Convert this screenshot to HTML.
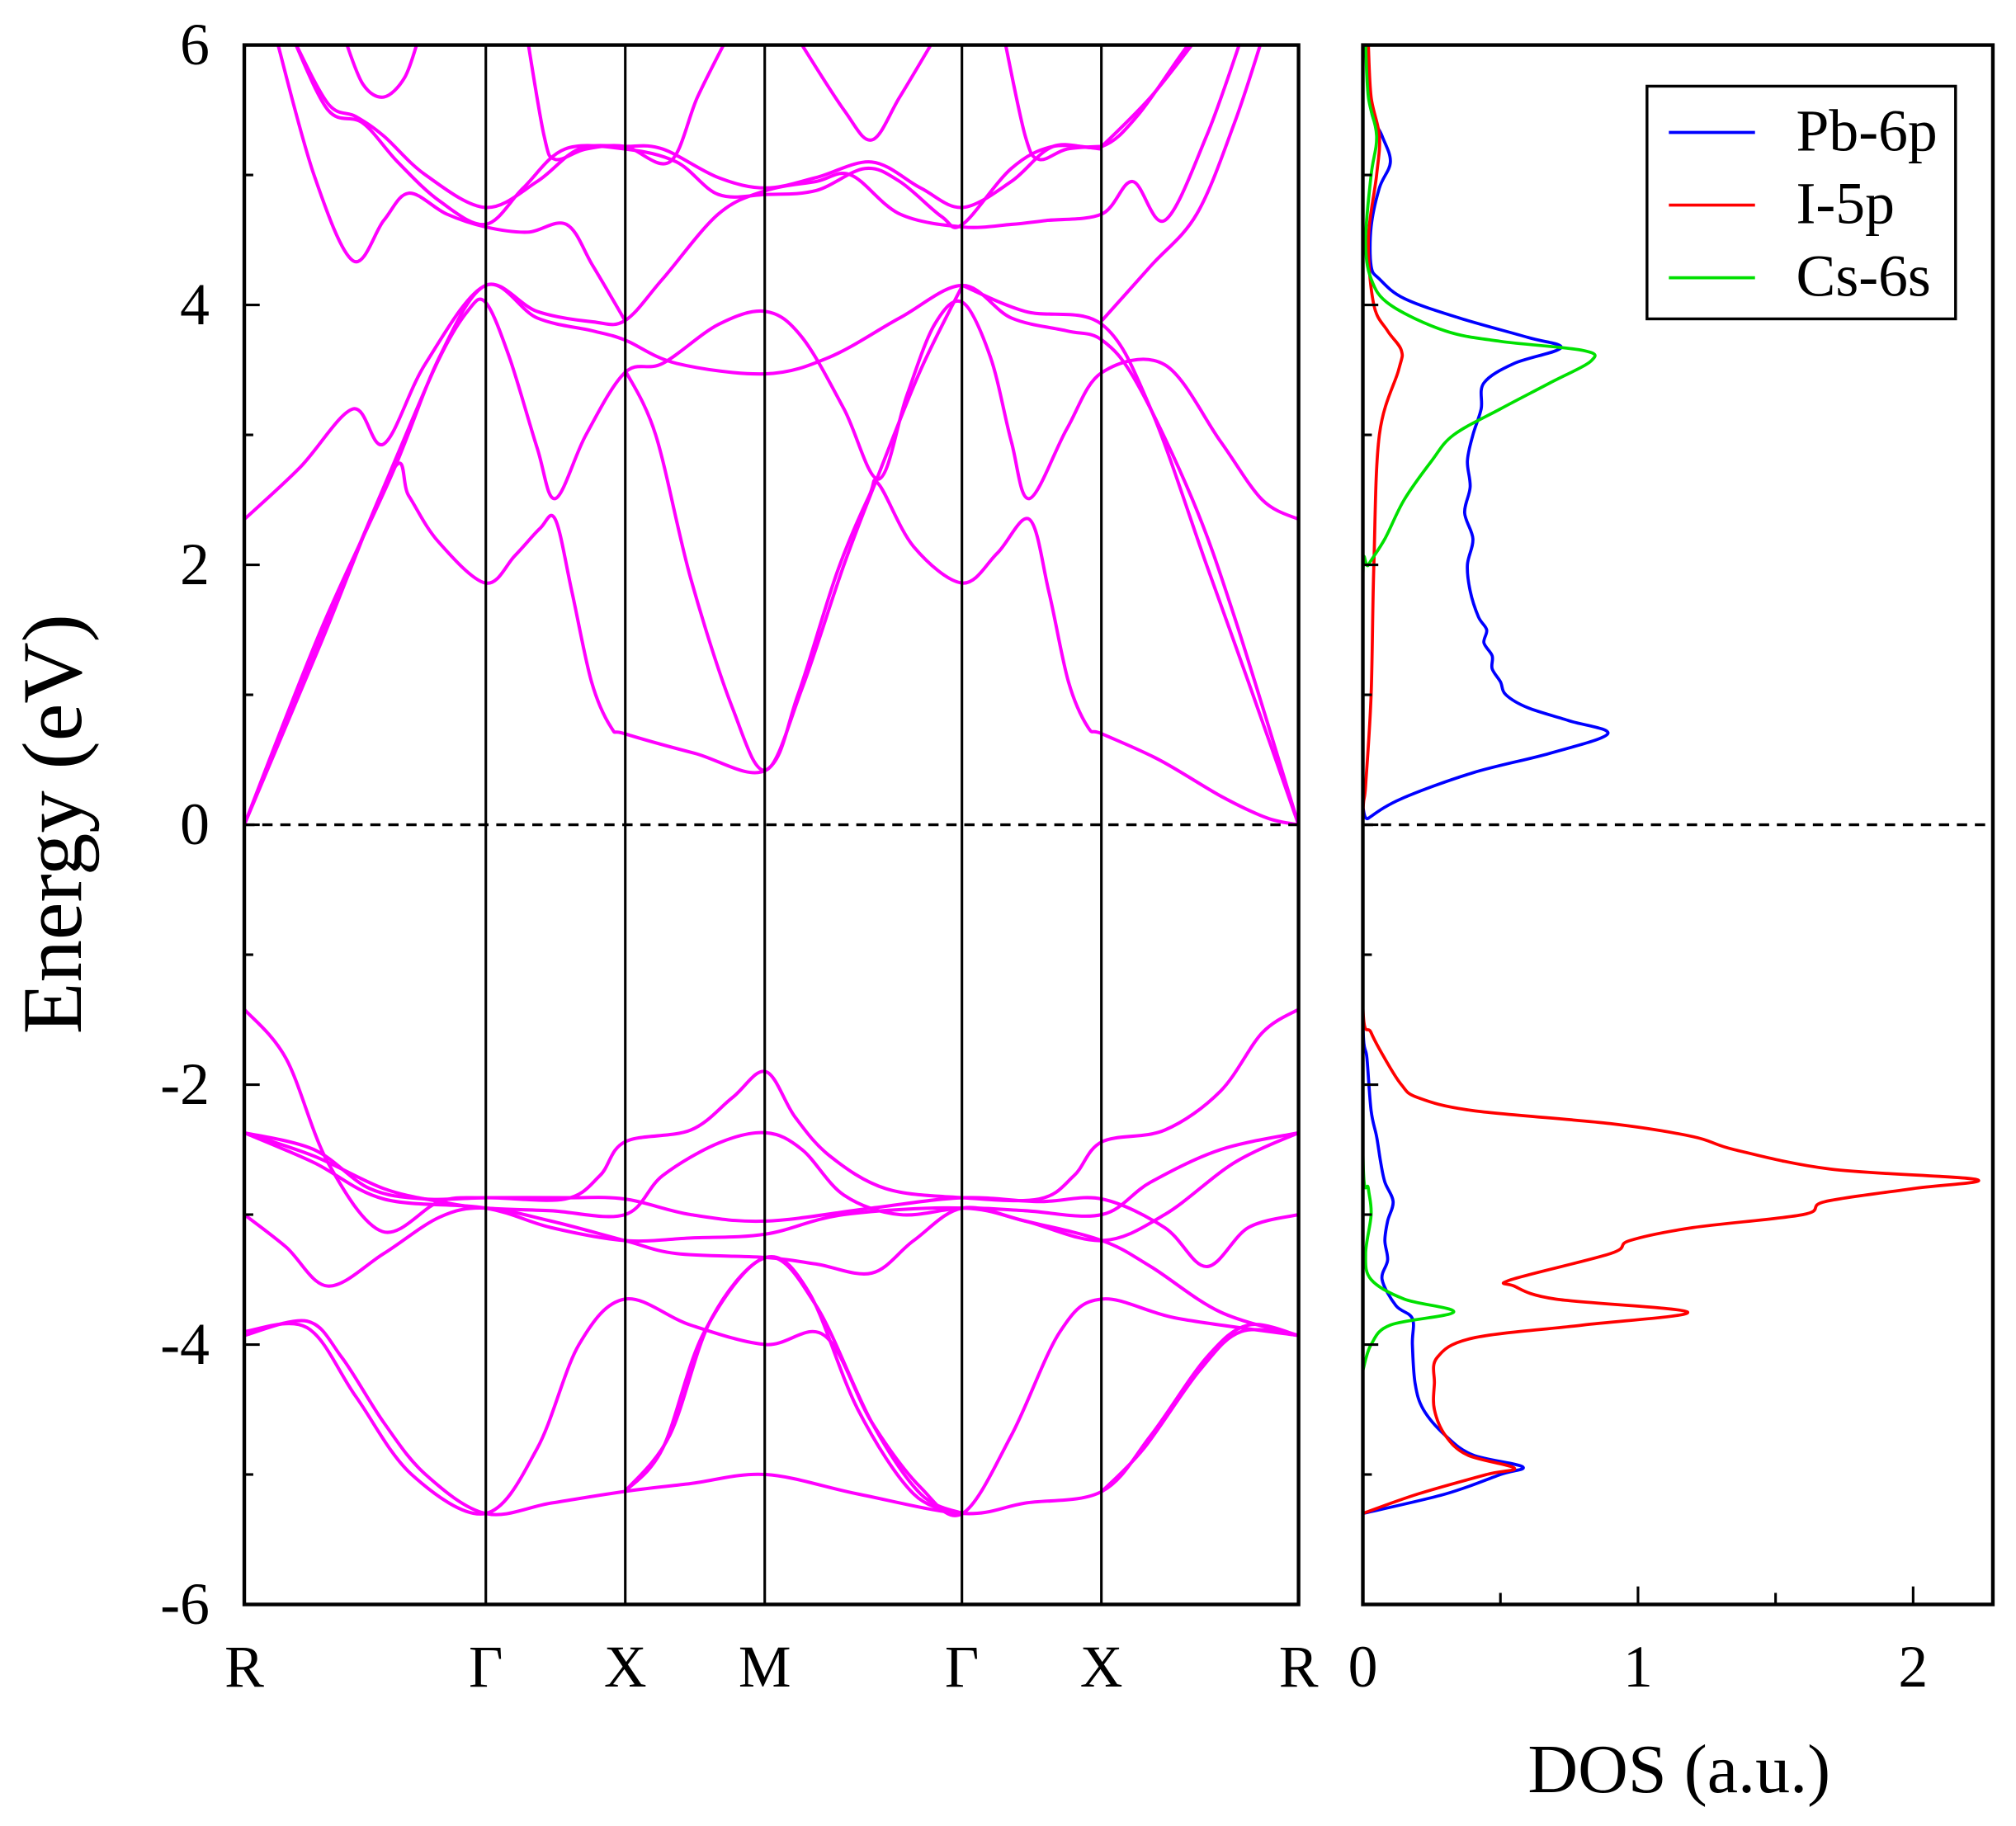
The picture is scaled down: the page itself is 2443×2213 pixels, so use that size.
<!DOCTYPE html>
<html><head><meta charset="utf-8"><style>
html,body{margin:0;padding:0;background:#fff;}
svg{display:block;font-family:"Liberation Serif","DejaVu Serif",serif;}
</style></head><body>
<svg id="chart" xmlns="http://www.w3.org/2000/svg" width="2443" height="2213" viewBox="0 0 1568 1420.3">
<rect x="0" y="0" width="1568" height="1420.3" fill="#fff"/>
<g id="bands"></g>
<g id="dos"></g>
<g id="axes"></g>
</svg>
<script>
// ---- data ----
const kLabels = ["R","Γ","X","M","Γ","X","R"];
const kPoints = [0, 1.732, 2.732, 3.732, 5.146, 6.146, 7.56];
const yTicks = [-6,-4,-2,0,2,4,6];
const dosTicks = [0,1,2];
const dosLegend = ["Pb-6p","I-5p","Cs-6s"];
const dosColors = ["#0000ff","#ff0000","#00e000"];

const bandC1 = [[0,0],[0.55,1.4],[1.06,2.72],[1.18,2.53],[1.39,2.18],[1.73,1.86],[1.94,2.07],[2.12,2.28],[2.23,2.35],[2.35,1.79],[2.49,1.1],[2.63,0.75],[2.73,0.7],[3.23,0.55],[3.74,0.42],[3.97,1.0],[4.25,1.94],[4.48,2.53],[4.55,2.62],[4.8,2.14],[5.15,1.86],[5.4,2.09],[5.63,2.35],[5.77,1.79],[5.91,1.1],[6.05,0.75],[6.15,0.7],[6.56,0.5],[7.02,0.21],[7.34,0.05],[7.56,0]];
const bandC2 = [[0,0],[0.55,1.45],[1.06,2.75],[1.39,3.57],[1.6,3.95],[1.73,4.02],[1.9,3.6],[2.1,2.9],[2.23,2.51],[2.45,3.0],[2.73,3.48],[3.0,3.55],[3.4,3.85],[3.74,3.95],[4.0,3.75],[4.3,3.2],[4.55,2.66],[4.75,3.3],[4.95,3.85],[5.15,4.02],[5.35,3.6],[5.5,2.95],[5.63,2.51],[5.9,3.05],[6.15,3.48],[6.6,3.54],[7.0,2.95],[7.3,2.5],[7.56,2.35]];
const bandC3 = [[0,0],[0.55,1.5],[1.06,2.7],[1.4,3.6],[1.73,4.15],[2.1,3.95],[2.5,3.87],[2.73,3.88],[3.0,4.2],[3.4,4.7],[3.74,4.88],[4.1,4.95],[4.35,5.0],[4.7,4.7],[5.15,4.6],[5.5,4.62],[5.75,4.65],[6.15,4.7],[6.37,4.95],[6.6,4.65],[6.9,5.3],[7.15,6.05]];
const bandC4 = [[0,2.35],[0.4,2.75],[0.78,3.2],[1.0,2.93],[1.3,3.55],[1.73,4.15],[2.1,3.9],[2.5,3.8],[2.73,3.73],[3.1,3.55],[3.74,3.47],[4.2,3.6],[4.7,3.9],[5.15,4.15],[5.5,3.9],[5.9,3.8],[6.15,3.73],[6.4,3.4],[6.8,2.5],[7.1,1.6],[7.56,0]];
const bandC5 = [[5.15,4.15],[5.6,3.95],[6.15,3.85],[6.5,3.2],[6.9,2.0],[7.2,1.1],[7.56,0]];
const bandC6 = [[2.73,3.5],[2.95,3.0],[3.2,1.9],[3.5,0.9],[3.74,0.42],[4.0,1.05],[4.3,2.0],[4.55,2.7],[4.85,3.5],[5.15,4.15]];
const bandU1 = [[0.23,6.05],[0.5,5.0],[0.78,4.34],[1.0,4.65],[1.18,4.86],[1.45,4.7],[1.73,4.6],[2.03,4.56],[2.31,4.62],[2.5,4.3],[2.73,3.88]];
const bandU2 = [[0.35,6.05],[0.6,5.55],[0.8,5.45],[1.0,5.3],[1.3,5.0],[1.73,4.75],[2.1,4.95],[2.4,5.2],[2.73,5.22],[3.0,5.2],[3.4,4.98],[3.74,4.9],[4.1,4.98],[4.5,5.1],[4.85,4.9],[5.15,4.75],[5.5,4.95],[5.8,5.22],[6.15,5.22],[6.4,5.45],[6.7,5.9],[6.8,6.05]];
const bandU2b = [[0.35,6.05],[0.6,5.5],[0.85,5.4],[1.1,5.1],[1.4,4.8],[1.73,4.62],[2.0,4.9],[2.3,5.2],[2.73,5.2],[3.1,5.1],[3.4,4.85],[3.74,4.85],[4.1,4.88],[4.45,5.05],[4.7,4.95],[5.0,4.68],[5.15,4.62],[5.5,5.05],[5.8,5.22],[6.15,5.2]];
const bandU3 = [[0.72,6.05],[0.85,5.7],[1.0,5.6],[1.15,5.75],[1.25,6.05]];
const bandU4 = [[2.03,6.05],[2.15,5.3],[2.23,5.12],[2.45,5.2],[2.73,5.22],[3.05,5.1],[3.25,5.6],[3.46,6.05]];
const bandU5 = [[3.97,6.05],[4.3,5.5],[4.5,5.27],[4.7,5.6],[4.95,6.05]];
const bandU6 = [[5.45,6.05],[5.6,5.3],[5.7,5.12],[5.9,5.2],[6.15,5.22]];
const bandU7 = [[6.15,5.22],[6.5,5.6],[6.83,6.05]];
const bandU8 = [[6.15,3.88],[6.5,4.3],[6.83,4.7],[7.1,5.4],[7.3,6.05]];
const bandV1 = [[0,-1.42],[0.3,-1.8],[0.6,-2.6],[0.99,-3.13],[1.4,-2.9],[1.73,-2.87],[2.3,-2.88],[2.55,-2.7],[2.73,-2.44],[3.2,-2.35],[3.5,-2.1],[3.74,-1.9],[3.95,-2.25],[4.2,-2.55],[4.6,-2.8],[5.15,-2.87],[5.7,-2.88],[5.95,-2.7],[6.15,-2.44],[6.6,-2.35],[7.0,-2.05],[7.3,-1.6],[7.56,-1.42]];
const bandV2 = [[0,-2.37],[0.5,-2.55],[1.0,-2.8],[1.4,-2.9],[1.73,-2.95],[2.2,-2.97],[2.73,-3.0],[3.0,-2.7],[3.4,-2.45],[3.74,-2.37],[4.0,-2.5],[4.3,-2.85],[4.7,-3.0],[5.15,-2.95],[5.6,-2.97],[6.15,-3.0],[6.5,-2.75],[7.0,-2.5],[7.56,-2.37]];
const bandV3 = [[0,-2.37],[0.5,-2.6],[1.0,-2.88],[1.73,-2.95],[2.2,-3.1],[2.73,-3.2],[3.2,-3.18],[3.74,-3.15],[4.3,-3.0],[5.15,-2.95],[5.6,-3.05],[6.15,-3.2],[6.6,-3.0],[7.1,-2.6],[7.56,-2.37]];
const bandV4 = [[0,-2.37],[0.5,-2.5],[0.9,-2.8],[1.3,-2.88],[1.73,-2.87],[2.3,-2.87],[2.73,-2.88],[3.2,-3.0],[3.74,-3.05],[4.5,-2.95],[5.15,-2.87],[5.7,-2.9],[6.15,-2.88],[6.6,-3.1],[6.9,-3.4],[7.2,-3.1],[7.56,-3.0]];
const bandV5 = [[0,-3.0],[0.3,-3.25],[0.6,-3.55],[1.0,-3.3],[1.4,-3.02],[1.73,-2.95],[2.2,-3.05],[2.73,-3.2],[3.1,-3.3],[3.74,-3.33],[4.1,-3.38],[4.5,-3.45],[4.8,-3.2],[5.15,-2.95],[5.6,-3.05],[6.15,-3.2],[6.5,-3.4],[7.0,-3.75],[7.56,-3.93]];
const bandV6 = [[0,-3.93],[0.45,-3.82],[0.7,-4.1],[1.0,-4.6],[1.3,-5.0],[1.73,-5.3],[2.2,-5.22],[2.73,-5.13],[3.2,-5.07],[3.74,-5.0],[4.4,-5.15],[5.15,-5.3],[5.6,-5.22],[6.15,-5.13],[6.5,-4.7],[6.9,-4.1],[7.2,-3.85],[7.56,-3.93]];
const bandV7 = [[0,-3.9],[0.45,-3.87],[0.8,-4.4],[1.2,-5.0],[1.73,-5.3],[2.1,-4.8],[2.4,-4.0],[2.73,-3.65],[3.2,-3.85],[3.74,-4.0],[4.16,-3.93],[4.5,-4.6],[4.85,-5.1],[5.15,-5.3],[5.5,-4.7],[5.85,-3.9],[6.15,-3.65],[6.7,-3.8],[7.56,-3.93]];
const bandV8 = [[2.73,-5.13],[3.0,-4.8],[3.3,-3.9],[3.74,-3.33],[4.1,-3.7],[4.5,-4.6],[4.85,-5.15],[5.15,-5.3]];
const bandV9 = [[2.73,-5.13],[3.05,-4.7],[3.35,-3.8],[3.74,-3.33],[4.05,-3.6],[4.4,-4.5],[4.8,-5.15],[5.15,-5.3]];
const bandV10 = [[6.15,-5.13],[6.45,-4.8],[6.85,-4.2],[7.15,-3.9],[7.56,-3.93]];
const bandList = [bandC1,bandC2,bandC3,bandC4,bandC5,bandC6,bandU1,bandU2,bandU2b,bandU3,bandU4,bandU5,bandU6,bandU7,bandU8,bandV1,bandV2,bandV3,bandV4,bandV5,bandV6,bandV7,bandV8,bandV9,bandV10];

const pbE = [-5.3,-5.15,-5.0,-4.94,-4.85,-4.7,-4.5,-4.3,-4.0,-3.8,-3.7,-3.5,-3.35,-3.2,-3.05,-2.9,-2.75,-2.6,-2.4,-2.2,-1.8,-1.5,0,0.05,0.2,0.4,0.55,0.7,0.8,0.9,1.0,1.1,1.2,1.3,1.4,1.5,1.6,1.8,2.0,2.2,2.4,2.6,2.8,3.0,3.2,3.4,3.55,3.67,3.75,3.9,4.05,4.2,4.3,4.6,4.9,5.1,5.3,5.5,6.0];
const pbV = [0,0.3,0.5,0.58,0.4,0.3,0.22,0.19,0.18,0.18,0.12,0.07,0.09,0.08,0.09,0.11,0.08,0.065,0.05,0.03,0.015,0,0,0.02,0.14,0.4,0.68,0.89,0.75,0.6,0.52,0.5,0.47,0.47,0.44,0.45,0.42,0.39,0.38,0.4,0.37,0.39,0.38,0.4,0.43,0.44,0.55,0.72,0.6,0.35,0.15,0.06,0.03,0.03,0.06,0.1,0.07,0.03,0.01];
const iE = [-5.3,-5.15,-5.0,-4.95,-4.85,-4.7,-4.5,-4.3,-4.1,-3.95,-3.85,-3.75,-3.65,-3.55,-3.5,-3.3,-3.2,-3.1,-3.0,-2.9,-2.8,-2.73,-2.65,-2.5,-2.4,-2.3,-2.2,-2.1,-2.0,-1.8,-1.6,-1.4,0,0.3,1.0,2.0,3.0,3.5,3.65,3.8,4.0,4.5,5.0,5.3,5.6,6.0];
const iV = [0,0.2,0.45,0.55,0.38,0.3,0.26,0.26,0.27,0.4,0.8,1.18,0.7,0.55,0.54,0.9,0.97,1.2,1.6,1.68,2.0,2.23,1.7,1.35,1.2,0.9,0.4,0.2,0.14,0.08,0.03,0,0,0.01,0.03,0.04,0.06,0.13,0.14,0.09,0.04,0.02,0.05,0.06,0.03,0.02];
const csE = [-4.2,-4.0,-3.85,-3.75,-3.65,-3.5,-3.3,-3.0,-2.8,-2.5,0,1.9,2.0,2.2,2.5,2.8,3.0,3.2,3.4,3.57,3.65,3.72,3.8,4.0,4.2,4.5,5.0,5.3,5.6,6.0];
const csV = [0,0.03,0.1,0.33,0.15,0.03,0.01,0.03,0.02,0,0,0,0.02,0.08,0.15,0.25,0.33,0.5,0.68,0.83,0.8,0.5,0.3,0.1,0.03,0.01,0.03,0.05,0.02,0.01];

// ---- layout (viewBox units) ----
const bandL=190, bandR=1010, plotT=35, plotB=1248, dosL=1060, dosR=1550, dosUnit=214;
const kx = k => bandL + k/kPoints[kPoints.length-1]*(bandR-bandL);
const ey = e => plotB - (e+6)/12*(plotB-plotT);
const dx = v => dosL + v*dosUnit;
const NS="http://www.w3.org/2000/svg";
function mk(tag, attrs, parent){const el=document.createElementNS(NS,tag);for(const a in attrs)el.setAttribute(a,attrs[a]);parent.appendChild(el);return el;}
function smooth(pts){
  let d="M"+pts[0][0].toFixed(2)+","+pts[0][1].toFixed(2);
  for(let i=0;i<pts.length-1;i++){
    const p0=pts[Math.max(0,i-1)],p1=pts[i],p2=pts[i+1],p3=pts[Math.min(pts.length-1,i+2)];
    const c1=[p1[0]+(p2[0]-p0[0])/6,p1[1]+(p2[1]-p0[1])/6];
    const c2=[p2[0]-(p3[0]-p1[0])/6,p2[1]-(p3[1]-p1[1])/6];
    d+="C"+c1[0].toFixed(2)+","+c1[1].toFixed(2)+" "+c2[0].toFixed(2)+","+c2[1].toFixed(2)+" "+p2[0].toFixed(2)+","+p2[1].toFixed(2);
  }
  return d;
}
const svg=document.getElementById('chart');
const defs=mk('defs',{},svg);
const cp=mk('clipPath',{id:'bclip'},defs); mk('rect',{x:bandL,y:plotT,width:bandR-bandL,height:plotB-plotT},cp);
const cp2=mk('clipPath',{id:'dclip'},defs); mk('rect',{x:dosL,y:plotT,width:dosR-dosL,height:plotB-plotT},cp2);

const gb=document.getElementById('bands'); gb.setAttribute('clip-path','url(#bclip)');
bandList.forEach((b,i)=>{
  const p=mk('path',{d:smooth(b.map(q=>[kx(q[0]),ey(q[1])])),fill:'none',stroke:'#ff00ff','stroke-width':2.6},gb);
  
  
});
const gd=document.getElementById('dos'); gd.setAttribute('clip-path','url(#dclip)');
[[pbE,pbV],[iE,iV],[csE,csV]].forEach((s,i)=>{
  const pts=s[0].map((e,j)=>[dx(s[1][j]),ey(e)]);
  const p=mk('path',{d:smooth(pts),fill:'none',stroke:dosColors[i],'stroke-width':2.4},gd);
  
  
});

const ga=document.getElementById('axes');
kPoints.slice(1,-1).forEach((k,i)=>{
  const l=mk('line',{x1:kx(k),x2:kx(k),y1:plotT,y2:plotB,stroke:'#000','stroke-width':2},ga);
  
  
});
[[bandL,bandR],[dosL,dosR]].forEach((r,i)=>{
  const l=mk('line',{x1:r[0],x2:r[1],y1:ey(0),y2:ey(0),stroke:'#000','stroke-width':2.2,'stroke-dasharray':'8,6'},ga);
  
  
});
for(let e=-6;e<=6;e++){
  const len = e%2===0?12:7;
  [bandL,dosL].forEach(x0=>{
    const t=mk('line',{x1:x0,x2:x0+len,y1:ey(e),y2:ey(e),stroke:'#000','stroke-width':2},ga);
    
    
  });
}
yTicks.forEach(v=>{
  const t=mk('text',{x:163,y:ey(v)+15,'text-anchor':'end','font-size':46},ga);
  t.textContent=v;
  
  
});
kLabels.forEach((s,i)=>{
  const t=mk('text',{x:kx(kPoints[i]),y:1312,'text-anchor':'middle','font-size':46},ga);
  t.textContent=s;
  
  
});
for(let v=0.5;v<=2;v+=0.5){
  const len = Math.abs(v-Math.round(v))<1e-6?14:9;
  const t=mk('line',{x1:dx(v),x2:dx(v),y1:plotB,y2:plotB-len,stroke:'#000','stroke-width':2},ga);
  
  
}
dosTicks.forEach(v=>{
  const t=mk('text',{x:dx(v),y:1312,'text-anchor':'middle','font-size':46},ga);
  t.textContent=v;
  
  
});
[[bandL,bandR],[dosL,dosR]].forEach((r,i)=>{
  const f=mk('rect',{x:r[0],y:plotT,width:r[1]-r[0],height:plotB-plotT,fill:'none',stroke:'#000','stroke-width':2.8},ga);
  
  
});
const yt=mk('text',{x:0,y:0,'text-anchor':'middle','font-size':66,transform:'translate(63,641) rotate(-90)'},ga);
yt.textContent='Energy (eV)';


const xt=mk('text',{x:1306,y:1394,'text-anchor':'middle','font-size':54},ga);
xt.textContent='DOS (a.u.)';


const lg=mk('g',{},ga);


mk('rect',{x:1281,y:67,width:240,height:181,fill:'#fff',stroke:'#000','stroke-width':2.2},lg);
dosLegend.forEach((s,i)=>{
  const y=103+i*56.5;
  const e=mk('g',{},lg);
  
  
  mk('line',{x1:1298,x2:1365,y1:y,y2:y,stroke:dosColors[i],'stroke-width':2.4},e);
  const t=mk('text',{x:1397,y:y+14,'font-size':46},e);
  t.textContent=s;
});
</script>
</body></html>
